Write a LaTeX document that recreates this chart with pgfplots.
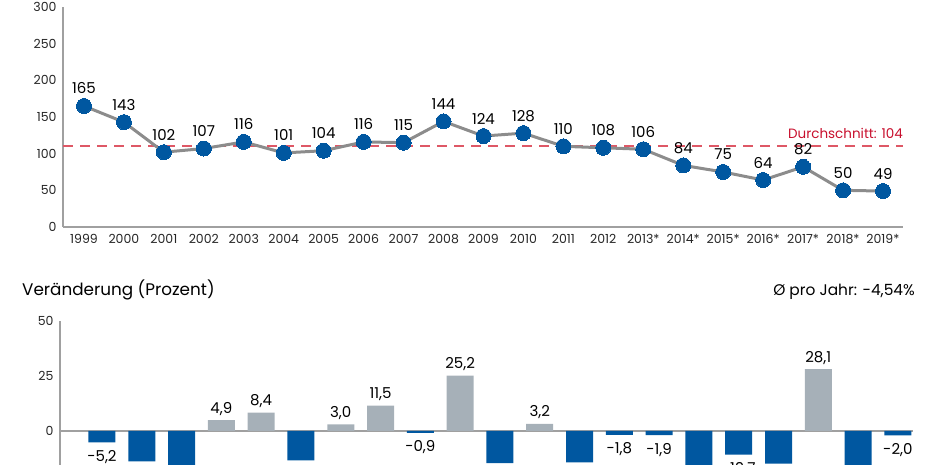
\documentclass[border=0pt]{standalone}
\usepackage{pgfplots}
\pgfplotsset{compat=1.18}
\usepackage{fontspec}
\setmainfont{Poppins}

\definecolor{dotblue}{RGB}{0,87,160}
\definecolor{linegray}{RGB}{140,140,140}
\definecolor{bargray}{RGB}{166,176,184}
\definecolor{axisgray}{RGB}{160,160,160}
\definecolor{avgred}{RGB}{222,88,102}
\definecolor{txtred}{RGB}{200,16,46}

\newcommand{\tickfont}{\fontsize{12.5pt}{14pt}\selectfont}
\newcommand{\valfont}{\fontsize{15pt}{17pt}\selectfont}

\begin{document}
\begin{tikzpicture}
\path[use as bounding box] (0,0) rectangle (930pt,465pt);
\clip (0,0) rectangle (930pt,465pt);

% --- Anzahl pro Jahr ---
\begin{axis}[
  at={(63pt,238pt)}, anchor=south west,
  scale only axis, width=840pt, height=220pt,
  xmin=1998.475, xmax=2019.5, ymin=0, ymax=300,
  axis lines*=left,
  axis line style={draw=axisgray, line width=1.2pt},
  major tick length=0pt,
  xtick={1999,...,2019},
  xticklabels={1999,2000,2001,2002,2003,2004,2005,2006,2007,2008,2009,2010,2011,2012,2013*,2014*,2015*,2016*,2017*,2018*,2019*},
  ytick={0,50,...,300},
  tick label style={font=\tickfont, text=black!85},
  /pgf/number format/assume math mode=true,
  xticklabel style={yshift=-4pt},
  yticklabel style={xshift=-3pt},
  clip=false,
]
\addplot[forget plot, no markers, draw=avgred, line width=2pt, dash pattern=on 10pt off 7pt] coordinates {(1998.475,111) (2019.5,111)};
\node[anchor=base east, text=txtred, font=\fontsize{13.5pt}{15pt}\selectfont, inner sep=0pt] at (axis cs:2019.5,111) [yshift=7pt] {Durchschnitt: 104};
\addplot[linegray, line width=3pt, mark=*, mark size=7.5pt,
  mark options={fill=dotblue, draw=dotblue, line width=0pt},
  nodes near coords,
  nodes near coords style={font=\valfont, text=black, anchor=base, yshift=12pt, inner sep=0pt}]
coordinates {
  (1999,165) (2000,143) (2001,102) (2002,107) (2003,116) (2004,101)
  (2005,104) (2006,116) (2007,115) (2008,144) (2009,124) (2010,128)
  (2011,110) (2012,108) (2013,106) (2014,84) (2015,75) (2016,64)
  (2017,82) (2018,50) (2019,49)
};
\end{axis}

% --- Veraenderung ---
\node[anchor=base west, inner sep=0pt, font=\fontsize{16.8pt}{19pt}\selectfont] at (22pt,169pt) {Veränderung (Prozent)};
\node[anchor=base east, inner sep=0pt, font=\fontsize{15.4pt}{17pt}\selectfont] at (915pt,169pt) {Ø pro Jahr: -4,54\%};

\begin{axis}[
  at={(60pt,-32pt)}, anchor=south west,
  scale only axis, width=853pt, height=176pt,
  xmin=-1.055, xmax=20.38, ymin=-30, ymax=50,
  axis x line*=middle, axis y line*=left,
  axis line style={draw=axisgray, line width=1.2pt},
  major tick length=0pt,
  xtick=\empty,
  ytick={0,25,50},
  tick label style={font=\tickfont, text=black!85},
  /pgf/number format/assume math mode=true,
  yticklabel style={xshift=-3pt},
  ybar, bar width=27pt, bar shift=0pt,
  point meta=explicit symbolic,
  clip=false,
]
\addplot[fill=dotblue, draw=none,
  nodes near coords,
  nodes near coords style={font=\valfont, text=black, anchor=base, yshift=-19pt, inner sep=0pt}]
coordinates {
  (0,-5.2) [-5,2]
  (1,-13.8) []
  (2,-20) []
  (5,-13.4) []
  (8,-0.9) [-0,9]
  (10,-14.6) []
  (12,-14.3) []
  (13,-1.8) [-1,8]
  (14,-1.9) [-1,9]
  (15,-20) []
  (16,-10.7) [-10,7]
  (17,-14.8) []
  (19,-20) []
  (20,-2.0) [-2,0]
};
\addplot[fill=bargray, draw=none,
  nodes near coords,
  nodes near coords style={font=\valfont, text=black, anchor=base, yshift=7pt, inner sep=0pt}]
coordinates {
  (3,4.9) [4,9]
  (4,8.4) [8,4]
  (6,3.0) [3,0]
  (7,11.5) [11,5]
  (9,25.2) [25,2]
  (11,3.2) [3,2]
  (18,28.1) [28,1]
};
\end{axis}
\end{tikzpicture}
\end{document}
